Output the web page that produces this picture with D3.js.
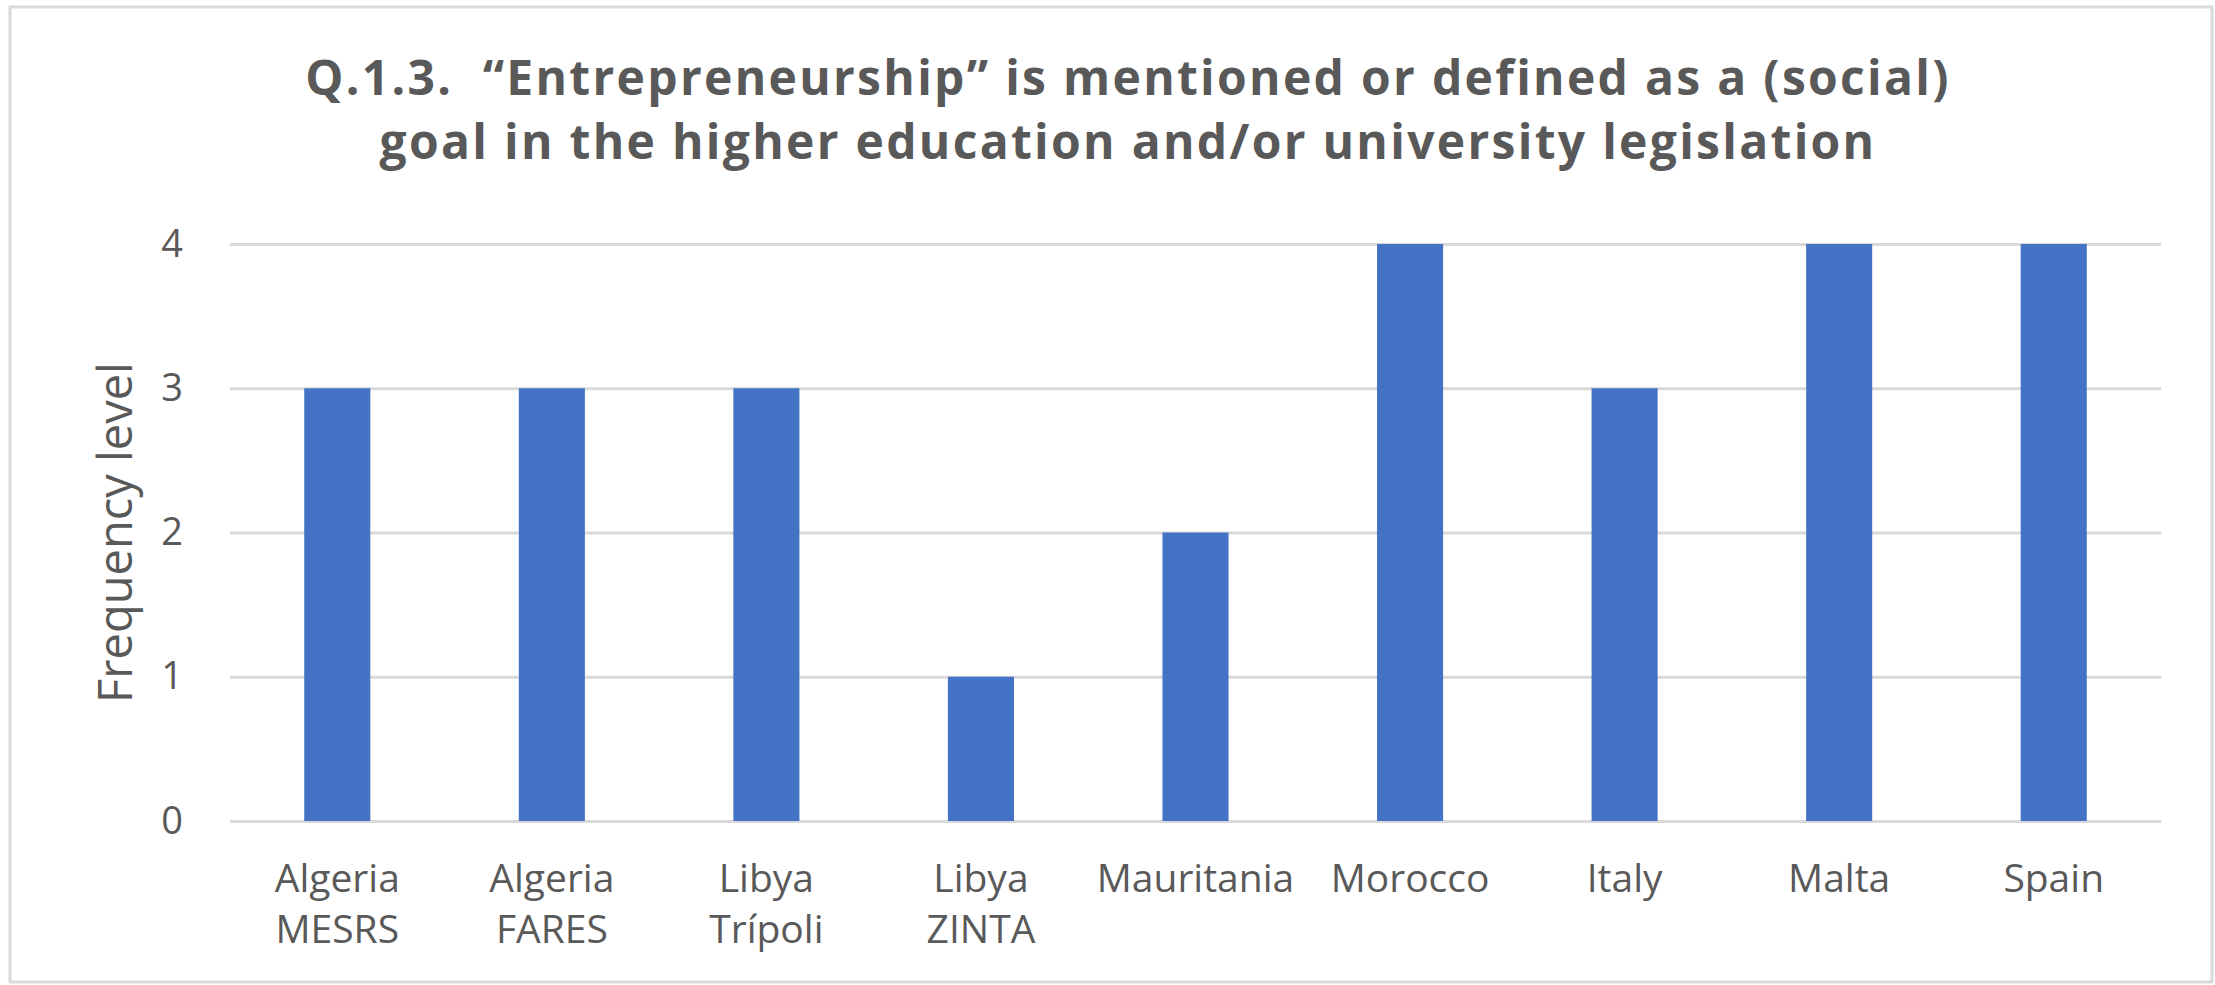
<!DOCTYPE html>
<html>
<head>
<meta charset="utf-8">
<script src="https://cdn.jsdelivr.net/npm/d3@7"></script>
<style>
  html, body { margin: 0; padding: 0; background: #fff; }
  svg { display: block; font-family: "Open Sans", "Segoe UI", sans-serif; }
</style>
</head>
<body>
<svg id="chart" width="2215" height="985"></svg>
<script>
// chart data
const categories = ["Algeria\nMESRS", "Algeria\nFARES", "Libya\nTrípoli", "Libya\nZINTA",
  "Mauritania", "Morocco", "Italy", "Malta", "Spain"];
const frequency = [3, 3, 3, 1, 2, 4, 3, 4, 4];
const yTicks = [0, 1, 2, 3, 4];
const titleLines = ["Q.1.3.  \u201cEntrepreneurship\u201d is mentioned or defined as a (social)",
  "goal in the higher education and/or university legislation"];
const yLabel = "Frequency level";

const svg = d3.select("#chart");
const margin = {top: 244, right: 54, bottom: 164, left: 230};
const width = 2215, height = 985;

// outer frame
svg.append("rect")
  .attr("x", 10).attr("y", 7)
  .attr("width", 2202).attr("height", 975)
  .attr("fill", "#fff")
  .attr("stroke", "#d9d9d9")
  .attr("stroke-width", 3);

const x = d3.scaleBand()
  .domain(categories)
  .range([margin.left, width - margin.right])
  .paddingInner(0.692)
  .paddingOuter(0.346);

const y = d3.scaleLinear()
  .domain([0, 4])
  .range([height - margin.bottom, margin.top]);

// gridlines
svg.append("g")
  .attr("transform", `translate(${margin.left},0)`)
  .call(d3.axisLeft(y).tickValues(yTicks).tickSize(-(width - margin.left - margin.right)).tickFormat(""))
  .call(g => g.select(".domain").remove())
  .call(g => g.selectAll("line").attr("stroke", "#d9d9d9").attr("stroke-width", 3));

// y tick labels
svg.append("g")
  .attr("transform", `translate(${margin.left},0)`)
  .call(d3.axisLeft(y).tickValues(yTicks).tickSize(0).tickPadding(47).tickFormat(d3.format("d")))
  .call(g => g.select(".domain").remove())
  .call(g => g.selectAll("text")
    .attr("fill", "#595959")
    .style("font-size", "38px")
    .style("font-family", "\"Open Sans\", sans-serif"));

// bars
svg.append("g")
  .selectAll("rect")
  .data(frequency)
  .join("rect")
  .attr("x", (d, i) => x(categories[i]))
  .attr("y", d => y(d))
  .attr("width", x.bandwidth())
  .attr("height", d => y(0) - y(d))
  .attr("fill", "#4472c4");

// x tick labels (wrapped)
const xAxis = svg.append("g")
  .attr("transform", `translate(0,${height - margin.bottom})`)
  .call(d3.axisBottom(x).tickSize(0).tickFormat(""))
  .call(g => g.select(".domain").remove());

xAxis.selectAll(".tick")
  .append("text")
  .attr("fill", "#595959")
  .attr("text-anchor", "middle")
  .style("font-size", "39px")
  .style("font-family", "\"Open Sans\", sans-serif")
  .each(function(d) {
    const lines = d.split("\n");
    d3.select(this).selectAll("tspan")
      .data(lines)
      .join("tspan")
      .attr("x", 0)
      .attr("y", (l, i) => 71 + i * 51)
      .text(l => l);
  });

// y axis title
svg.append("text")
  .attr("transform", `translate(132,${(y(0) + y(4)) / 2}) rotate(-90)`)
  .attr("text-anchor", "middle")
  .attr("fill", "#595959")
  .style("font-size", "47px")
  .text(yLabel);

// chart title
const title = svg.append("text")
  .attr("text-anchor", "middle")
  .attr("fill", "#595959")
  .style("font-weight", "bold")
  .style("font-size", "48px")
  .style("letter-spacing", "2.3px")
  .style("white-space", "pre");

title.selectAll("tspan")
  .data(titleLines)
  .join("tspan")
  .attr("x", 1128)
  .attr("y", (d, i) => 95 + i * 64)
  .text(d => d);
</script>
</body>
</html>
